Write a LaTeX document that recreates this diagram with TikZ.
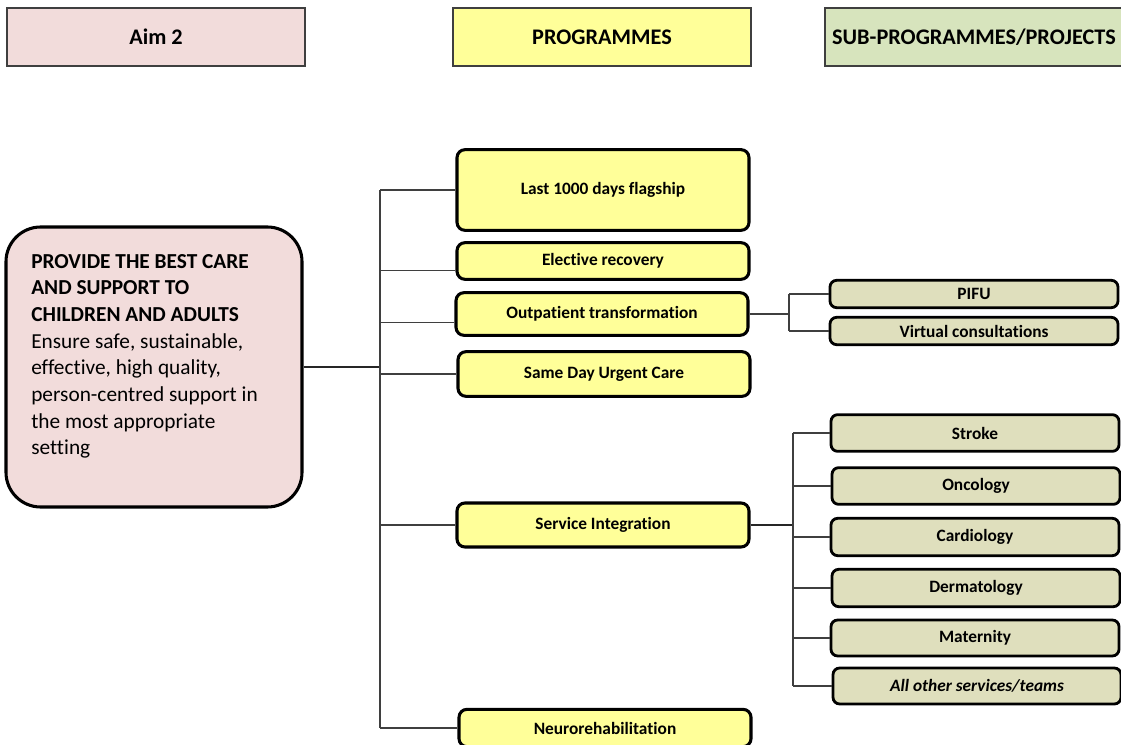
\documentclass[tikz,border=0pt]{standalone}
\usepackage{fontspec}
\setmainfont{Carlito}[Ligatures=NoCommon]
\usepackage{xcolor}
\usepackage{tikz}
\definecolor{aimpink}{HTML}{F2DCDB}
\definecolor{progyellow}{HTML}{FFFF99}
\definecolor{headgreen}{HTML}{D7E4BD}
\definecolor{subkhaki}{HTML}{DFDFBD}
\definecolor{linegrey}{HTML}{3F3F3F}
\tikzset{
  headbox/.style={draw=linegrey,line width=0.9pt,minimum width=223.5pt,minimum height=43.5pt,
    font=\fontsize{16.7}{19}\selectfont\bfseries},
  progbox/.style={draw=black,fill=progyellow,line width=2.3pt,rounded corners=6pt,
    minimum width=219pt,font=\fontsize{13}{15}\selectfont\bfseries},
  subbox/.style={draw=black,fill=subkhaki,line width=2.1pt,rounded corners=5pt,
    minimum width=216pt,font=\fontsize{13}{15}\selectfont\bfseries},
  branch/.style={draw=linegrey,line width=0.8pt},
  joinline/.style={draw=black!85,line width=1.4pt}
}

\begin{document}
\begin{tikzpicture}[x=0.75pt,y=-0.75pt]
\useasboundingbox (0,0) rectangle (1121,745);
% column heads
\node[headbox,fill=aimpink] (headaim) at (156,37) {Aim 2};
\node[headbox,fill=progyellow] (headprog) at (602,37) {PROGRAMMES};
\node[headbox,fill=headgreen] (headsub) at (974,37) {SUB-PROGRAMMES/PROJECTS};
% aim
\node[draw=black,fill=aimpink,line width=2.3pt,rounded corners=26pt,
  minimum width=222pt,minimum height=210pt] (aim) at (154,367) {};
\node[anchor=north west,inner sep=0pt,align=left,
  font=\fontsize{16}{20}\selectfont] (aimtxt) at (31,254)
  {\textbf{PROVIDE THE BEST CARE}\\ \textbf{AND SUPPORT TO}\\ \textbf{CHILDREN AND ADULTS}\\
   Ensure safe, sustainable,\\ effective, high quality,\\ person-centred support in\\
   the most appropriate\\ setting};
% programmes
\node[progbox,minimum height=60.5pt] (last) at (603,190) {Last 1000 days flagship};
\node[progbox,minimum height=27.5pt] (elective) at (603,261) {Elective recovery};
\node[progbox,minimum height=32pt] (outpat) at (602,314) {Outpatient transformation};
\node[progbox,minimum height=33.5pt] (sameday) at (604,374) {Same Day Urgent Care};
\node[progbox,minimum height=33pt] (service) at (603,525) {Service Integration};
\node[progbox,minimum height=28pt] (neuro) at (605,728) {Neurorehabilitation};
% sub-programmes
\node[subbox,minimum height=20.5pt] (pifu) at (974,294) {PIFU};
\node[subbox,minimum height=20.5pt] (virtual) at (974,331) {Virtual consultations};
\node[subbox,minimum height=27.5pt] (stroke) at (975,433) {Stroke};
\node[subbox,minimum height=27.5pt] (oncology) at (976,486) {Oncology};
\node[subbox,minimum height=28pt] (cardio) at (975,537) {Cardiology};
\node[subbox,minimum height=28pt] (derma) at (976,588) {Dermatology};
\node[subbox,minimum height=27pt] (mater) at (975,638) {Maternity};
\node[subbox,minimum height=27pt] (others) at (977,686) {\itshape All other services/teams};
% connectors
\coordinate (trunk) at (380,367);
\coordinate (optrunk) at (789,314);
\coordinate (sitrunk) at (793,525);
\draw[joinline] (aim.east) -- (trunk);
\draw[branch] (trunk |- last.west) -- (trunk |- neuro.west);
\foreach \p/\dy in {last/0,elective/-7,outpat/-6.5,sameday/0,service/0,neuro/0}
  \draw[branch] ([yshift=\dy pt]trunk |- \p.west) -- ([yshift=\dy pt]\p.west);
\draw[branch] (outpat.east) -- (optrunk);
\draw[branch] (optrunk |- pifu.west) -- (optrunk |- virtual.west);
\foreach \s in {pifu,virtual}
  \draw[branch] (optrunk |- \s.west) -- (\s.west);
\draw[joinline] (service.east) -- (sitrunk);
\draw[branch] (sitrunk |- stroke.west) -- (sitrunk |- others.west);
\foreach \s in {stroke,oncology,cardio,derma,mater,others}
  \draw[branch] (sitrunk |- \s.west) -- (\s.west);
\end{tikzpicture}
\end{document}
